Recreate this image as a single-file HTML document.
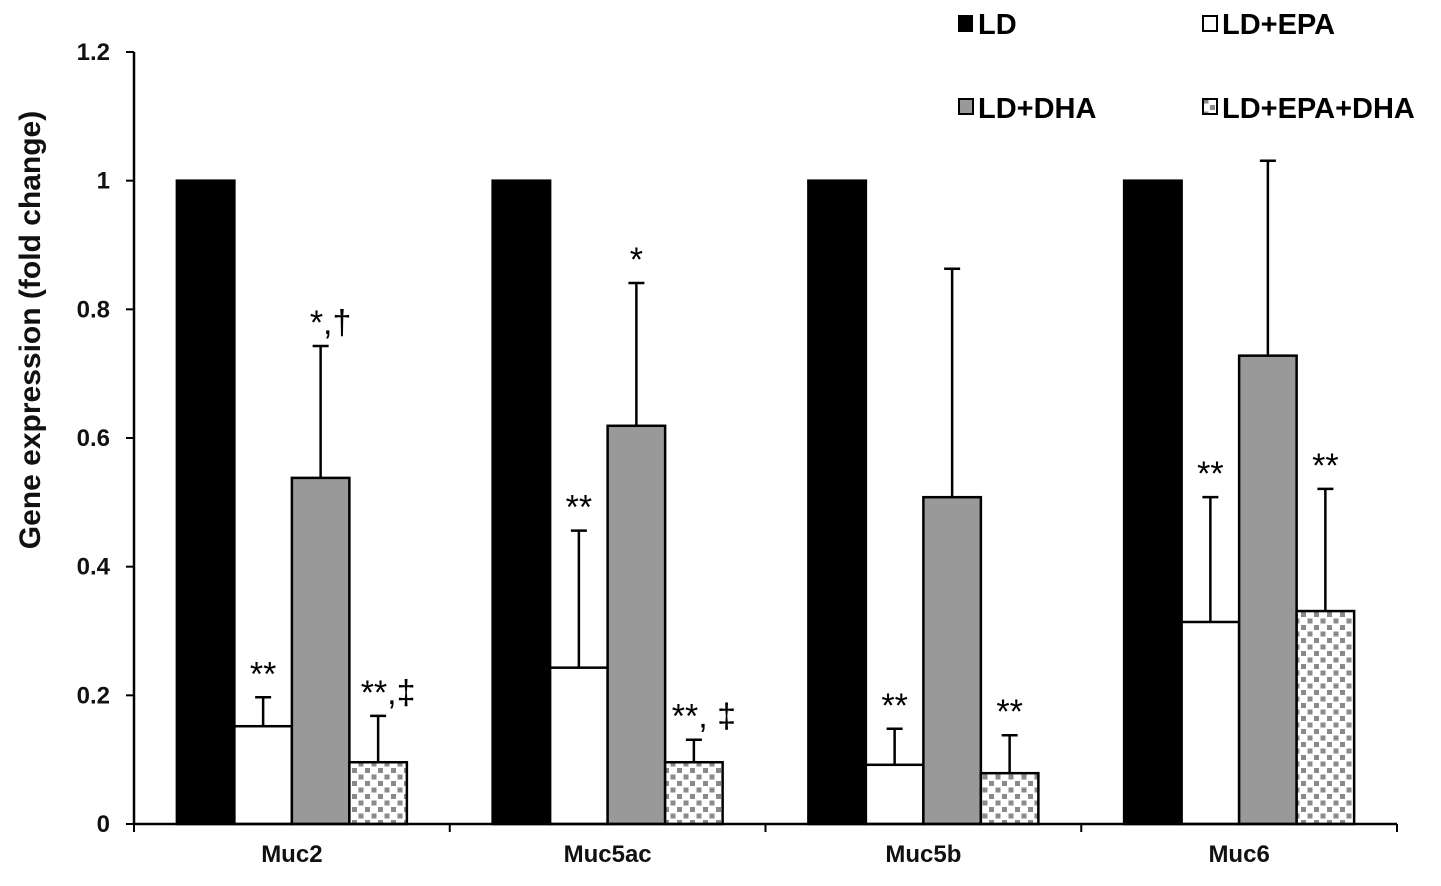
<!DOCTYPE html>
<html><head><meta charset="utf-8"><style>
html,body{margin:0;padding:0;background:#fff;}
svg{display:block;font-family:"Liberation Sans",Arial,sans-serif;font-weight:bold;}
</style></head><body>
<svg id="chart" width="1441" height="886" viewBox="0 0 1441 886" xmlns="http://www.w3.org/2000/svg">
<defs>
<pattern id="checker" width="13" height="13" patternUnits="userSpaceOnUse">
<rect width="13" height="13" fill="#fff"/>
<rect x="1" y="1" width="5" height="5" fill="#8a8a8a"/>
<rect x="7.5" y="7.5" width="5" height="5" fill="#8a8a8a"/>
</pattern>
</defs>
<g id="plot"></g>
<text transform="translate(40,330) rotate(-90)" text-anchor="middle" font-size="30" fill="#111">Gene expression (fold change)</text>
<g>
<g><rect x="958" y="15" width="15" height="17" fill="#000"/><text x="978" y="34" font-size="29">LD</text></g>
<g><rect x="1203" y="16" width="14" height="15" fill="#fff" stroke="#000" stroke-width="2"/><text x="1222" y="34" font-size="29">LD+EPA</text></g>
<g><rect x="959" y="99" width="14" height="15" fill="#999" stroke="#000" stroke-width="2"/><text x="978" y="118" font-size="29">LD+DHA</text></g>
<g><rect x="1203" y="99" width="14" height="15" fill="url(#checker)" stroke="#000" stroke-width="2"/><text x="1222" y="118" font-size="29">LD+EPA+DHA</text></g>
</g>
</svg>
<script>
const categories = ["Muc2","Muc5ac","Muc5b","Muc6"];
const seriesNames = ["LD","LD+EPA","LD+DHA","LD+EPA+DHA"];
const ldValues = [1,1,1,1];
const epaValues = [0.152,0.243,0.092,0.314];
const dhaValues = [0.538,0.619,0.508,0.728];
const comboValues = [0.096,0.096,0.079,0.331];
const ldErr = [0,0,0,0];
const epaErr = [0.045,0.213,0.056,0.194];
const dhaErr = [0.205,0.222,0.355,0.303];
const comboErr = [0.072,0.035,0.059,0.19];
const epaNotes = ["**","**","**","**"];
const dhaNotes = ["*,†","*","",""];
const comboNotes = ["**,‡","**, ‡","**","**"];
const yTicks = [0,0.2,0.4,0.6,0.8,1,1.2];
const yTickLabels = ["0","0.2","0.4","0.6","0.8","1","1.2"];

const NS="http://www.w3.org/2000/svg";
const g=document.getElementById('plot');
const x0=134,x1=1397,y0=824,yTop=52;
const yScale=v=>y0-(v/1.2)*(y0-yTop);
const bandW=(x1-x0)/categories.length;
const barW=57.5;
const xBar=(ci,si)=>x0+ci*bandW+bandW/2-2*barW+si*barW;
function el(tag,attrs,text){const e=document.createElementNS(NS,tag);for(const k in attrs)e.setAttribute(k,attrs[k]);if(text!==undefined)e.textContent=text;g.appendChild(e);return e;}

const series=[ldValues,epaValues,dhaValues,comboValues];
const errs=[ldErr,epaErr,dhaErr,comboErr];
const notes=[null,epaNotes,dhaNotes,comboNotes];
const fills=["#000","#fff","#999","url(#checker)"];
const keys=["ld","epa","dha","epa-dha"];
categories.forEach((c,ci)=>{
  series.forEach((s,si)=>{
    const v=s[ci],x=xBar(ci,si),y=yScale(v);
    const r=el('rect',{x:x,y:y,width:barW,height:y0-y,fill:fills[si],stroke:"#000","stroke-width":2.5});
    
    
    const e=errs[si][ci];
    const cx=x+barW/2;
    if(e>0){
      const yt=yScale(v+e);
      const l=el('path',{d:`M${cx},${y}V${yt}M${cx-8},${yt}H${cx+8}`,stroke:"#000","stroke-width":2.5,fill:"none"});
      
      
    }
    if(notes[si]&&notes[si][ci]){
      const t=el('text',{x:cx+(notes[si][ci].length>2?10:0),y:yScale(v+e)-12,"text-anchor":"middle","font-size":34,"font-weight":"normal",fill:"#000"},notes[si][ci]);
      
      
    }
  });
  const lab=el('text',{x:x0+ci*bandW+bandW/2,y:862,"text-anchor":"middle","font-size":24,fill:"#111"},c);
  
  
});
const ya=el('path',{d:`M${x0},${yTop}V${y0}`,stroke:"#000","stroke-width":2.5,fill:"none"});


const xa=el('path',{d:`M${x0},${y0}H${x1}`,stroke:"#000","stroke-width":2.5,fill:"none"});


for(let i=0;i<=categories.length;i++){
  const tx=x0+i*bandW;
  const t=el('path',{d:`M${tx},${y0}V${y0+8}`,stroke:"#000","stroke-width":2});
  
  
}
yTicks.forEach((v,i)=>{
  const y=yScale(v);
  const t=el('path',{d:`M${x0-8},${y}H${x0}`,stroke:"#000","stroke-width":2});
  
  
  const l=el('text',{x:110,y:y+8,"text-anchor":"end","font-size":24,fill:"#111"},yTickLabels[i]);
  
  
});
</script>
</body></html>
